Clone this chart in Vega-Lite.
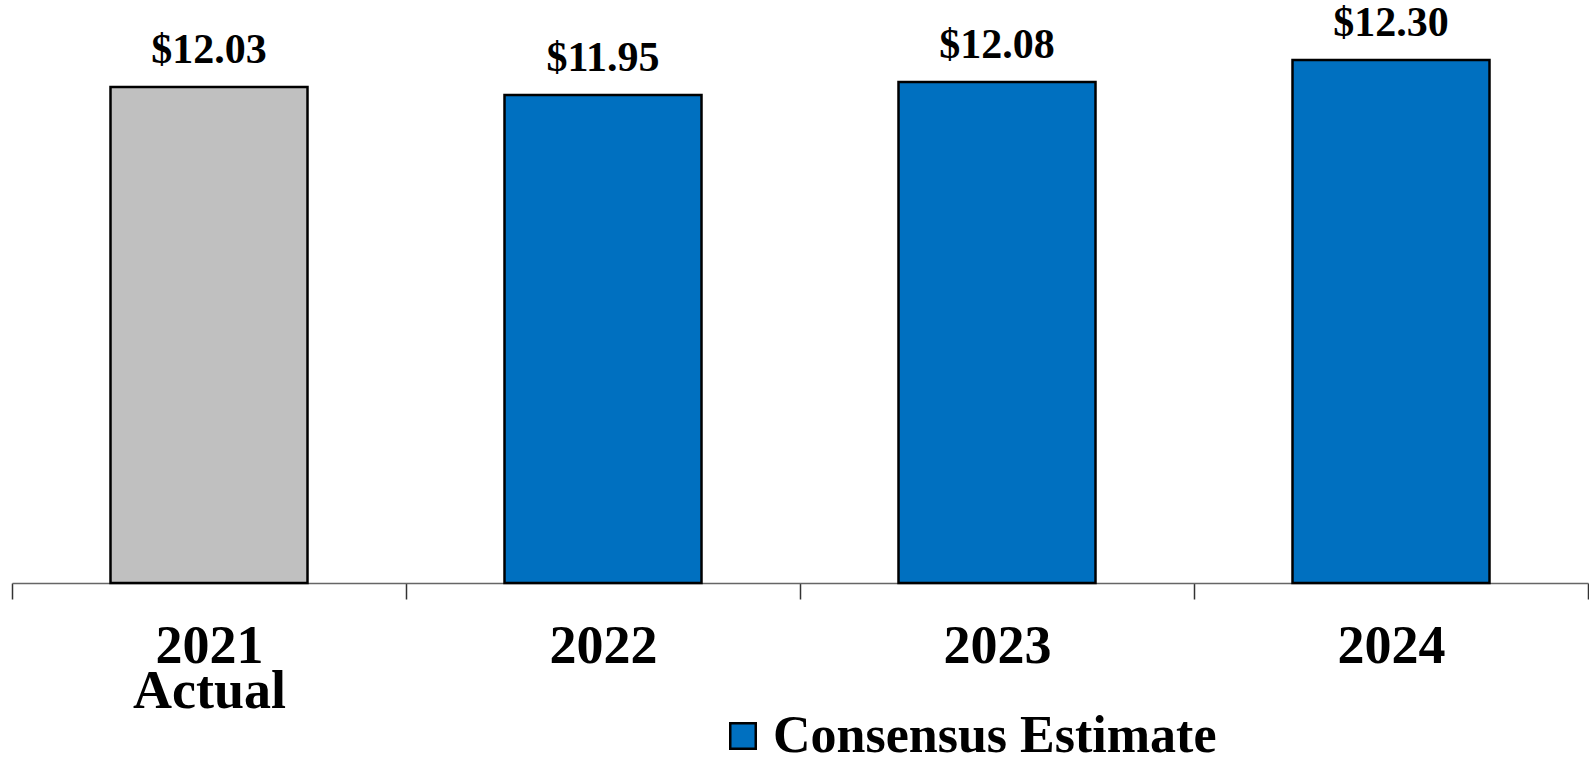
{
  "$schema": "https://vega.github.io/schema/vega-lite/v6.json",
  "width": 1576,
  "height": 583,
  "autosize": {"type": "none"},
  "padding": {"left": 12, "top": 0, "right": 1, "bottom": 177},
  "background": "white",
  "config": {"view": {"stroke": null}},
  "data": {
    "values": [
      {"year": "2021", "eps": 12.03, "label": "$12.03", "type": "Actual"},
      {"year": "2022", "eps": 11.95, "label": "$11.95", "type": "Consensus Estimate"},
      {"year": "2023", "eps": 12.08, "label": "$12.08", "type": "Consensus Estimate"},
      {"year": "2024", "eps": 12.30, "label": "$12.30", "type": "Consensus Estimate"}
    ]
  },
  "encoding": {
    "x": {
      "field": "year",
      "type": "ordinal",
      "scale": {"paddingInner": 0, "paddingOuter": 0},
      "axis": {
        "title": null,
        "labelAngle": 0,
        "labelExpr": "datum.value == '2021' ? ['2021', 'Actual'] : datum.value",
        "labelFont": "Liberation Serif",
        "labelFontWeight": "bold",
        "labelFontSize": 54,
        "labelColor": "black",
        "labelLineHeight": 45,
        "labelBaseline": "alphabetic",
        "labelPadding": 63,
        "tickBand": "extent",
        "tickSize": 16,
        "tickColor": "#333333",
        "tickWidth": 1.5,
        "domainColor": "#666666",
        "domainWidth": 1.5
      }
    },
    "y": {
      "field": "eps",
      "type": "quantitative",
      "scale": {"domain": [7.07, 12.9], "zero": false, "nice": false},
      "axis": null
    }
  },
  "layer": [
    {
      "mark": {"type": "bar", "width": {"band": 0.5}, "stroke": "black", "strokeWidth": 2.5},
      "encoding": {
        "y2": {"datum": 7.07},
        "color": {
          "field": "type",
          "type": "nominal",
          "scale": {"domain": ["Actual", "Consensus Estimate"], "range": ["#C0C0C0", "#0070C0"]},
          "legend": {
            "values": ["Consensus Estimate"],
            "title": null,
            "orient": "none",
            "legendX": 705,
            "legendY": 710,
            "symbolType": "square",
            "symbolSize": 650,
            "symbolStrokeColor": "black",
            "symbolStrokeWidth": 2.5,
            "symbolOpacity": 1,
            "labelFont": "Liberation Serif",
            "labelFontWeight": "bold",
            "labelFontSize": 52,
            "labelColor": "black",
            "labelOffset": 4,
            "labelLimit": 1000,
            "padding": 0
          }
        }
      }
    },
    {
      "mark": {
        "type": "text",
        "font": "Liberation Serif",
        "fontWeight": "bold",
        "fontSize": 42,
        "baseline": "alphabetic",
        "dy": -24,
        "color": "black"
      },
      "encoding": {"text": {"field": "label"}}
    }
  ]
}
